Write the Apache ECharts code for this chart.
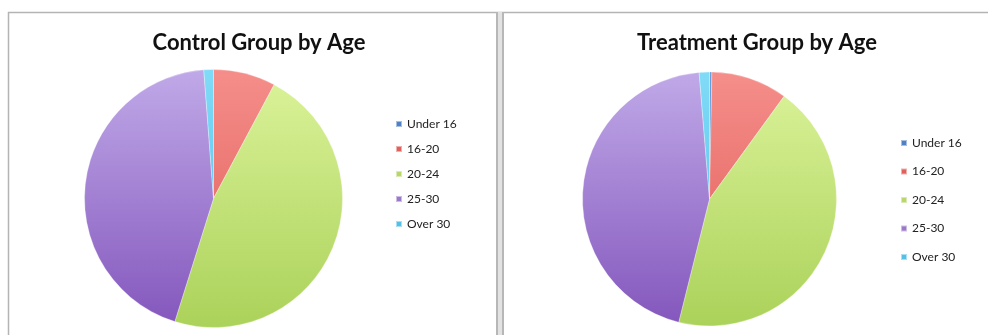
<!DOCTYPE html>
<html>
<head>
<meta charset="utf-8">
<script src="https://cdn.jsdelivr.net/npm/echarts@6/dist/echarts.min.js"></script>
<style>
  html, body { margin: 0; padding: 0; background: #ffffff; }
  #main { width: 988px; height: 335px; }
</style>
</head>
<body>
<div id="main"></div>
<script>
// Age bands shown in both pies and legends
const ageGroups = ['Under 16', '16-20', '20-24', '25-30', 'Over 30'];
// Share of each group (percent)
const controlShares = [0, 7.8, 47.1, 44.0, 1.2];
const treatmentShares = [0.3, 9.7, 43.9, 44.8, 1.3];
const chartTitles = ['Control Group by Age', 'Treatment Group by Age'];

// Solid swatch colour and top/bottom shading for each band
const swatchColors = ['#4f81c4', '#e0605c', '#b7d66c', '#9a79c8', '#55c0e6'];
const shadeTop = ['#6d9edb', '#f58e8a', '#dbf39a', '#c0a9e8', '#80dbf7'];
const shadeBottom = ['#4a79bd', '#df5954', '#abd25a', '#8356bc', '#4cbbe5'];

const FONT = 'Lato, "Open Sans", sans-serif';

const chart = echarts.init(document.getElementById('main'), null, { renderer: 'canvas' });

function shadedData(values, cy, r) {
  return ageGroups.map((name, i) => ({
    name: name,
    value: values[i],
    itemStyle: {
      color: {
        type: 'linear', global: true,
        x: 0, y: cy - r, x2: 0, y2: cy + r,
        colorStops: [
          { offset: 0, color: shadeTop[i] },
          { offset: 1, color: shadeBottom[i] }
        ]
      }
    }
  }));
}

const legendData = ageGroups.map((name, i) => ({
  name: name,
  itemStyle: { color: swatchColors[i] }
}));

const pies = [
  { cx: 213.5, cy: 198.5, r: 129 },
  { cx: 709.5, cy: 199, r: 127 }
];

const option = {
  backgroundColor: '#ffffff',
  animation: false,
  title: [
    {
      text: chartTitles[0], left: 254, top: 27, textAlign: 'center',
      textStyle: { fontFamily: FONT, fontWeight: 'bold', fontSize: 22, color: '#111111' }
    },
    {
      text: chartTitles[1], left: 752, top: 27, textAlign: 'center',
      textStyle: { fontFamily: FONT, fontWeight: 'bold', fontSize: 22, color: '#111111' }
    }
  ],
  legend: [
    {
      orient: 'vertical', left: 390, top: 112,
      itemWidth: 6, itemHeight: 6, itemGap: 11, icon: 'rect',
      data: legendData, selectedMode: false,
      textStyle: { fontFamily: FONT, fontSize: 12, color: '#222222', lineHeight: 14 }
    },
    {
      orient: 'vertical', left: 895, top: 131,
      itemWidth: 6, itemHeight: 6, itemGap: 14.5, icon: 'rect',
      data: legendData, selectedMode: false,
      textStyle: { fontFamily: FONT, fontSize: 12, color: '#222222', lineHeight: 14 }
    }
  ],
  graphic: [
    // panel frames
    { type: 'line', shape: { x1: 8, y1: 12.5, x2: 988, y2: 12.5 }, style: { stroke: '#b4b4b4', lineWidth: 1.5 }, silent: true },
    { type: 'line', shape: { x1: 8.5, y1: 12, x2: 8.5, y2: 335 }, style: { stroke: '#b4b4b4', lineWidth: 1.5 }, silent: true },
    { type: 'rect', shape: { x: 496, y: 12, width: 8, height: 323 }, style: { fill: '#e2e2e2' }, silent: true },
    { type: 'line', shape: { x1: 497, y1: 12, x2: 497, y2: 335 }, style: { stroke: '#a8a8a8', lineWidth: 1.5 }, silent: true },
    { type: 'line', shape: { x1: 503, y1: 12, x2: 503, y2: 335 }, style: { stroke: '#a8a8a8', lineWidth: 1.5 }, silent: true }
  ],
  series: [
    {
      type: 'pie', center: [pies[0].cx, pies[0].cy], radius: pies[0].r,
      startAngle: 90, clockwise: true, silent: true,
      label: { show: false }, labelLine: { show: false },
      itemStyle: { borderColor: 'rgba(255,255,255,0.5)', borderWidth: 0.6 },
      data: shadedData(controlShares, pies[0].cy, pies[0].r)
    },
    {
      type: 'pie', center: [pies[1].cx, pies[1].cy], radius: pies[1].r,
      startAngle: 90, clockwise: true, silent: true,
      label: { show: false }, labelLine: { show: false },
      itemStyle: { borderColor: 'rgba(255,255,255,0.5)', borderWidth: 0.6 },
      data: shadedData(treatmentShares, pies[1].cy, pies[1].r)
    }
  ]
};

chart.setOption(option);
</script>
</body>
</html>
